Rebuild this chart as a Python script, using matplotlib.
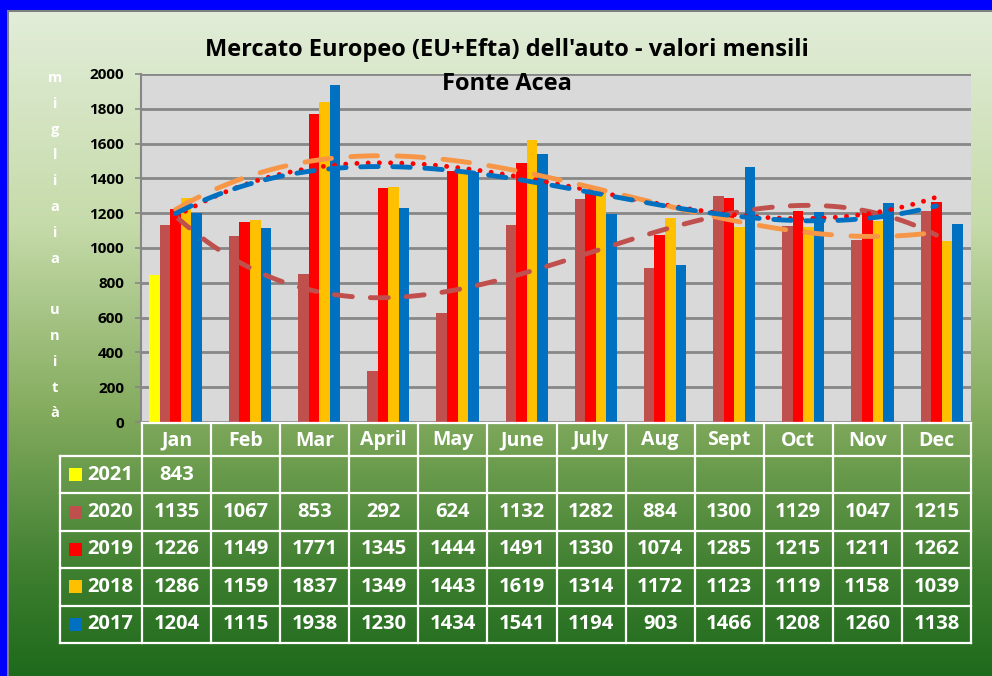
import numpy as np
import matplotlib
matplotlib.use('Agg')
import matplotlib.pyplot as plt
from matplotlib.colors import LinearSegmentedColormap
from matplotlib.patches import Rectangle

plt.rcParams['font.family'] = ['Open Sans', 'DejaVu Sans']

months = ['Jan', 'Feb', 'Mar', 'April', 'May', 'June', 'July', 'Aug', 'Sept', 'Oct', 'Nov', 'Dec']
years = ['2021', '2020', '2019', '2018', '2017']
v2021 = [843, None, None, None, None, None, None, None, None, None, None, None]
v2020 = [1135, 1067, 853, 292, 624, 1132, 1282, 884, 1300, 1129, 1047, 1215]
v2019 = [1226, 1149, 1771, 1345, 1444, 1491, 1330, 1074, 1285, 1215, 1211, 1262]
v2018 = [1286, 1159, 1837, 1349, 1443, 1619, 1314, 1172, 1123, 1119, 1158, 1039]
v2017 = [1204, 1115, 1938, 1230, 1434, 1541, 1194, 903, 1466, 1208, 1260, 1138]
series = [v2021, v2020, v2019, v2018, v2017]
bar_colors = ['#FFFF00', '#C0504D', '#FF0000', '#FFC000', '#0070C0']
yticks = [0, 200, 400, 600, 800, 1000, 1200, 1400, 1600, 1800, 2000]
ylabel_text = 'migliaia unità'
title1 = "Mercato Europeo (EU+Efta) dell'auto - valori mensili"
title2 = 'Fonte Acea'

W, H = 992, 676
fig = plt.figure(figsize=(W / 100, H / 100), dpi=100)


def fx(px):
    return px / W


def fy(py):
    return 1 - py / H


# background gradient + border
bg = fig.add_axes([0, 0, 1, 1], zorder=-10)
bg.set_xlim(0, W)
bg.set_ylim(H, 0)
bg.axis('off')
grad = np.linspace(0, 1, 256).reshape(-1, 1)
cmap = LinearSegmentedColormap.from_list('g', [(0, '#e3eedb'), (0.33, '#c6dbaa'), (0.6, '#86ad60'),
                                               (0.85, '#3e7e2f'), (1, '#1e6a1c')])
bg.imshow(grad, aspect='auto', cmap=cmap, extent=[0, W, H, 0], interpolation='bilinear')
bg.add_patch(Rectangle((0, 0), 7, H, color='#0000FF', lw=0))
bg.add_patch(Rectangle((0, 0), W, 10, color='#0000FF', lw=0))
bg.add_patch(Rectangle((7, 10), 1.5, H, color='#7f7f7f', lw=0))
bg.add_patch(Rectangle((7, 10), W, 1.5, color='#7f7f7f', lw=0))

# y label letters
y0, dy = 78, 25.8
for i, ch in enumerate(ylabel_text):
    bg.text(55, y0 + i * dy, ch, color='white', fontsize=10.5, fontweight='bold',
            ha='center', va='center')

# main axes
L, R, T, B = 141, 971, 74, 422
ax = fig.add_axes([fx(L), fy(B), fx(R) - fx(L), (B - T) / H])
ax.set_facecolor('#D9D9D9')
x = np.arange(1, 13)
w = 0.152
for i, (vals, c) in enumerate(zip(series, bar_colors)):
    v = np.array([np.nan if a is None else a for a in vals], dtype=float)
    ax.bar(x + (i - 2) * w, v, w, color=c, zorder=2, lw=0)

ax.set_xlim(0.5, 12.5)
ax.set_ylim(0, 2000)
ax.set_yticks(yticks)
ax.set_xticks([])
ax.yaxis.grid(True, color='#878787', lw=2)
ax.set_axisbelow(True)
for s in ['top', 'right']:
    ax.spines[s].set_visible(False)
ax.spines['left'].set_color('#878787')
ax.spines['left'].set_linewidth(1.5)
ax.spines['bottom'].set_color('#878787')
ax.tick_params(axis='y', length=4.3, width=1.2, color='#878787', pad=8, labelsize=11)
for lab in ax.get_yticklabels():
    lab.set_fontweight('bold')

# polynomial trendlines (Excel-style)
xf = np.linspace(1, 12, 300)
trend_styles = [
    (v2020, '#C0504D', (0, (3.7, 3.7))),
    (v2019, '#FF0000', (0, (0.01, 2.3))),
    (v2018, '#F79646', (0, (5.5, 4.0))),
    (v2017, '#0070C0', (0, (3.6, 3.0))),
]
for vals, c, ls in trend_styles:
    coef = np.polyfit(x, np.array(vals, dtype=float), 3)
    ax.plot(xf, np.polyval(coef, xf), color=c, lw=3.5, linestyle=ls,
            dash_capstyle='round', solid_capstyle='round', zorder=3)

# overlay axes (titles + data table)
tb = fig.add_axes([0, 0, 1, 1], zorder=5)
tb.set_xlim(0, W)
tb.set_ylim(H, 0)
tb.axis('off')
tb.patch.set_alpha(0)

tb.text(507, 50, title1, fontsize=17, fontweight='bold', ha='center', va='center', color='black')
tb.text(507, 84, title2, fontsize=17, fontweight='bold', ha='center', va='center', color='black')

c0, c1 = 60, 142
cw = (R - c1) / 12
h_top, h_bot = 423, 456
row_edges = np.linspace(456, 643, 6)
lc, lw_t = 'white', 1.6
tb.plot([c1, R], [h_top, h_top], color=lc, lw=lw_t)
for i in range(13):
    xe = c1 + i * cw
    tb.plot([xe, xe], [h_top, row_edges[-1]], color=lc, lw=lw_t)
tb.plot([c0, c0], [row_edges[0], row_edges[-1]], color=lc, lw=lw_t)
for ye in row_edges:
    tb.plot([c0, R], [ye, ye], color=lc, lw=lw_t)

for i, m in enumerate(months):
    tb.text(c1 + (i + 0.5) * cw, (h_top + h_bot) / 2 + 1, m, color='white', fontsize=14,
            fontweight='bold', ha='center', va='center')
for r, (yr, vals, c) in enumerate(zip(years, series, bar_colors)):
    yc = (row_edges[r] + row_edges[r + 1]) / 2
    tb.add_patch(Rectangle((69, yc - 6.5), 13, 13, color=c, lw=0))
    tb.text(87, yc, yr, color='white', fontsize=14.5, fontweight='bold', ha='left', va='center')
    for i, v in enumerate(vals):
        if v is not None:
            tb.text(c1 + (i + 0.5) * cw, yc, str(v), color='white', fontsize=14.5,
                    fontweight='bold', ha='center', va='center')

fig.savefig('out.png', dpi=100)
